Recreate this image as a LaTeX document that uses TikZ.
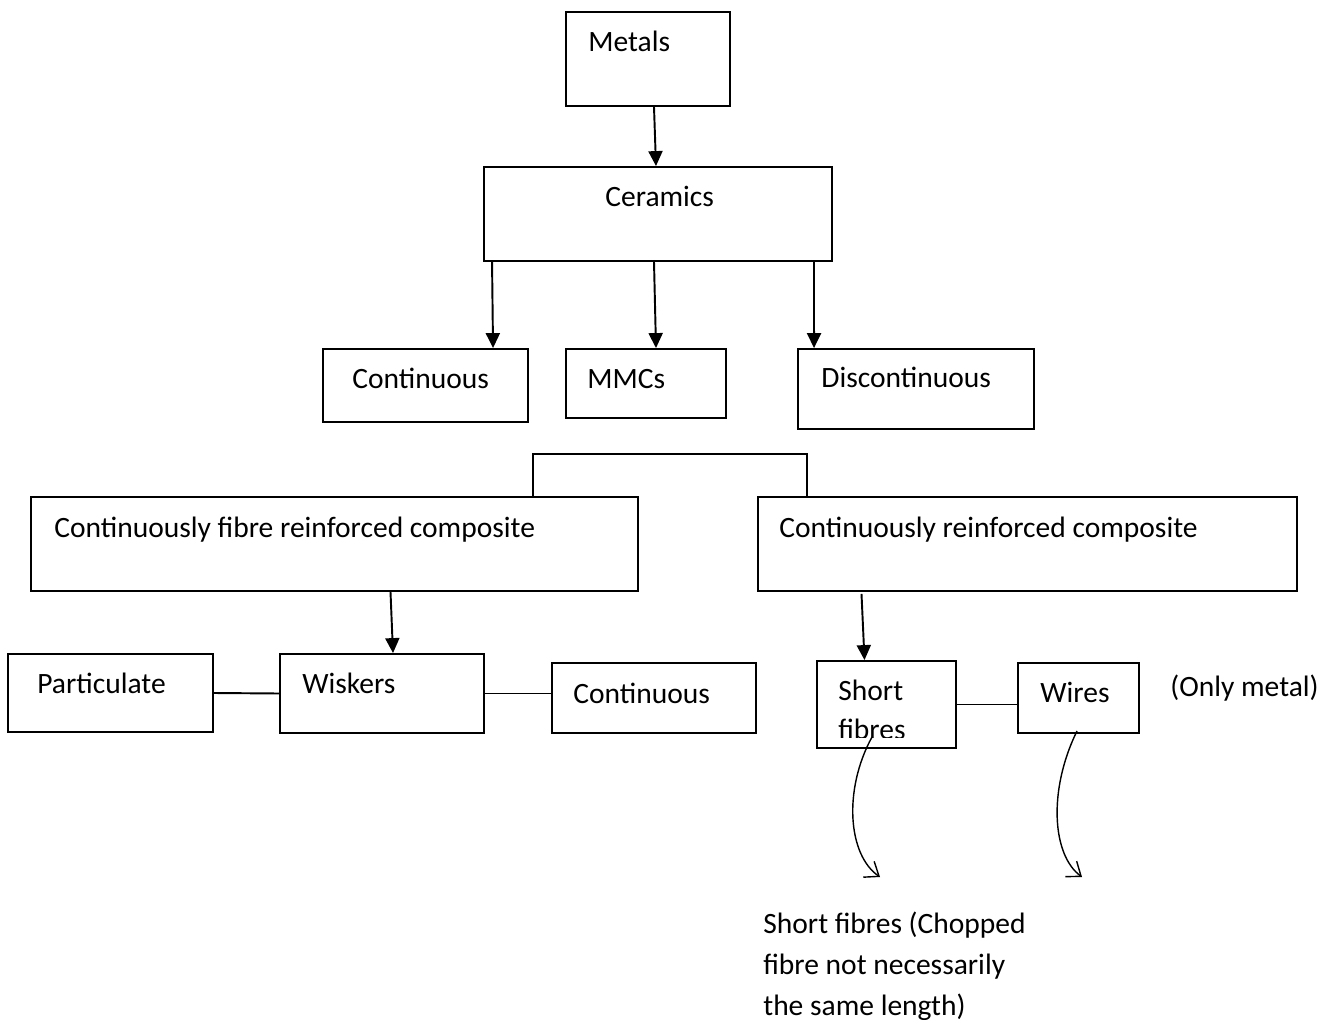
\documentclass[tikz,border=0pt]{standalone}
\usepackage{fontspec}
\setmainfont{Carlito}
\usetikzlibrary{arrows.meta,calc,fit}

\begin{document}
\begin{tikzpicture}[x=0.02cm,y=-0.02cm,
    box/.style={draw,line width=1.1pt,inner sep=0pt},
    lbl/.style={anchor=base west,inner sep=0pt,font=\fontsize{16.8}{23.2}\selectfont,align=left},
    arr/.style={line width=1.1pt,-{Triangle[length=8.5pt,width=8pt]}},
    link/.style={line width=1.1pt},
    curly/.style={line width=0.8pt,-{Straight Barb[angle=75:9pt]}}]
  \useasboundingbox[fill=white] (0,0) rectangle (1331,1020);
  % boxes
  \node[box,fit={(566,12) (730,106)}] (metals) {};
  \node[box,fit={(484,167) (832,261)}] (ceramics) {};
  \node[box,fit={(323,349) (528,422)}] (contA) {};
  \node[box,fit={(566,349) (726,418)}] (mmcs) {};
  \node[box,fit={(798,349) (1034,429)}] (discont) {};
  \node[box,fit={(31,497) (638,591)}] (cfrc) {};
  \node[box,fit={(758,497) (1297,591)}] (crc) {};
  \node[box,fit={(8,654) (213,732)}] (partic) {};
  \node[box,fit={(280,654) (484,733)}] (wisk) {};
  \node[box,fit={(552,663) (756,733)}] (contB) {};
  \node[box,fit={(817,661) (956,748)}] (short) {};
  \node[box,fit={(1018,663) (1139,733)}] (wires) {};
  % texts
  \node[lbl] (metalsT) at (588,52) {Metals};
  \node[lbl] (ceramicsT) at (605,207) {Ceramics};
  \node[lbl] (contAT) at (352,388) {Continuous};
  \node[lbl] (mmcsT) at (587,388) {MMCs};
  \node[lbl] (discontT) at (821,387) {Discontinuous};
  \node[lbl] (cfrcT) at (54,537) {Continuously fibre reinforced composite};
  \node[lbl] (crcT) at (779,537) {Continuously reinforced composite};
  \node[lbl] (particT) at (37,693) {Particulate};
  \node[lbl] (wiskT) at (302,693) {Wiskers};
  \node[lbl] (contBT) at (573,703) {Continuous};
  \begin{scope}
    \clip (short.north west) rectangle ($(short.east)+(0,33)$);
    \node[lbl] (shortT) at (838,739) {Short\\[-1.2pt]fibres};
  \end{scope}
  \node[lbl] (wiresT) at (1040,702) {Wires};
  \node[lbl] (onlyT) at (1170,696) {(Only metal)};
  \node[lbl] (noteT) at (763,1015) {Short fibres (Chopped\\fibre not necessarily\\the same length)};
  % arrows
  \draw[arr] ($(metals.south)+(6,0)$) -- ($(ceramics.north)+(-2,0)$);
  \draw[arr] ($(ceramics.south west)+(9,0)$) -- ($(contA.north west)+(171,0)$);
  \draw[arr] ($(ceramics.south)+(-4,0)$) -- ($(mmcs.north)+(10,0)$);
  \draw[arr] ($(ceramics.south east)+(-19,0)$) -- ($(discont.north west)+(17,0)$);
  \draw[arr] ($(cfrc.south)+(56,0)$) -- ($(wisk.north)+(11,0)$);
  \draw[arr] ($(crc.south)+(-166,2)$) -- ($(short.north)+(-22,0)$);
  % bracket and links
  \draw[link] ($(cfrc.north west)+(503,0)$) |- ($(crc.north west)+(50,-42)$) -- ($(crc.north west)+(50,0)$);
  \draw[link] (partic.east) -- (wisk.west);
  \draw[link] (wisk.east) -- (wisk.east -| contB.west);
  \draw[link] (short.east) -- (short.east -| wires.west);
  % curved arrows
  \coordinate (sA) at (872,737);
  \coordinate (eA) at (880,877);
  \coordinate (sB) at (1077,731);
  \coordinate (eB) at (1082,877);
  \draw[curly] (sA) .. controls (843,790) and (848,855) .. (eA);
  \draw[curly] (sB) .. controls (1048,790) and (1052,855) .. (eB);
\end{tikzpicture}
\end{document}
